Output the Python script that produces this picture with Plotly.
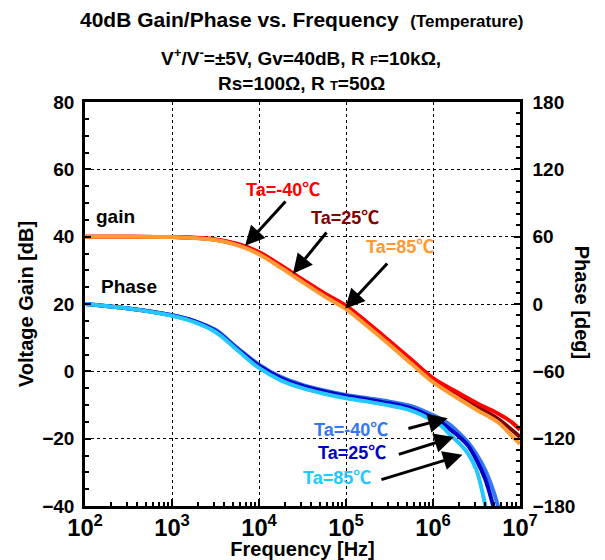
import plotly.graph_objects as go

# 40dB gain / phase vs frequency (temperature)

# log10 of frequency [Hz]
lf_gain = [2, 2.5, 3, 3.25, 3.5, 3.75, 4, 4.25, 4.5, 4.75, 5, 5.25, 5.5, 5.75, 6, 6.25, 6.5, 6.75, 6.9, 7]
gain_m40 = [40, 40, 39.9, 39.7, 39.2, 37.9, 35.4, 31.5, 27.3, 23.2, 19.5, 14.4, 9.0, 3.5, -2.0, -5.8, -9.4, -12.6, -15.0, -17.4]
gain_25 = [40, 40, 39.9, 39.7, 39.1, 37.7, 35.1, 31.2, 26.9, 22.7, 18.9, 13.8, 8.4, 2.9, -2.6, -6.6, -10.4, -14.2, -17.3, -19.5]
gain_85 = [40, 40, 39.9, 39.6, 39.0, 37.5, 34.8, 30.8, 26.5, 22.3, 18.5, 13.3, 7.9, 2.3, -3.2, -7.4, -11.4, -15.2, -19.0, -21.5]

lf_phase = [2, 2.5, 3, 3.25, 3.5, 3.75, 4, 4.25, 4.5, 4.75, 5, 5.25, 5.5, 5.75, 6, 6.1, 6.2, 6.3, 6.4, 6.5, 6.6, 6.7, 6.8]
phase_m40 = [0, -4, -10, -15, -23, -39, -54, -65, -72, -77, -81, -84, -87, -91, -99, -103, -108, -115, -123, -134, -148, -168, -195]
phase_25 = [0, -4, -10, -15, -24, -40, -55, -66, -73, -78, -82, -85, -88.5, -93, -101.5, -106, -112, -118, -126, -139, -156, -182, -210]
phase_85 = [0, -4, -10.5, -16, -25, -41, -57, -68, -75, -80, -84, -87, -90.5, -95, -104, -109, -117, -124, -133, -148, -179, -215, -250]

f_gain = [10 ** v for v in lf_gain]
f_phase = [10 ** v for v in lf_phase]

FONT = "Liberation Sans, Arial, Noto Sans CJK JP"

fig = go.Figure()

# phase (right axis)
fig.add_trace(go.Scatter(x=f_phase, y=phase_m40, yaxis="y2", mode="lines", line=dict(color="#3377F5", width=4, shape="spline")))
fig.add_trace(go.Scatter(x=f_phase, y=phase_25, yaxis="y2", mode="lines", line=dict(color="#0000C8", width=4, shape="spline")))
fig.add_trace(go.Scatter(x=f_phase, y=phase_85, yaxis="y2", mode="lines", line=dict(color="#22C8FF", width=4, shape="spline")))

# gain (left axis)
fig.add_trace(go.Scatter(x=f_gain, y=gain_25, mode="lines", line=dict(color="#800000", width=4, shape="spline")))
fig.add_trace(go.Scatter(x=f_gain, y=gain_m40, mode="lines", line=dict(color="#FF0000", width=4, shape="spline")))
fig.add_trace(go.Scatter(x=f_gain, y=gain_85, mode="lines", line=dict(color="#FF9A33", width=4, shape="spline")))

tickfont = dict(family=FONT, size=19, color="black", weight="bold")

fig.update_layout(
    width=605, height=560,
    margin=dict(l=85, r=85, t=102, b=54),
    paper_bgcolor="white", plot_bgcolor="white",
    showlegend=False,
    font=dict(family=FONT, color="black"),
    xaxis=dict(
        type="log", range=[2, 7], dtick=1, exponentformat="power", automargin=False,
        showgrid=True, gridcolor="black", griddash="dot", gridwidth=1,
        showline=True, linecolor="black", linewidth=2.5, mirror=True,
        ticks="inside", ticklen=7, tickcolor="black", tickwidth=1.5,
        minor=dict(ticks="inside", ticklen=4, dtick="D1", tickcolor="black", showgrid=False),
        tickfont=tickfont,
        title=dict(text="Frequency [Hz]", font=dict(family=FONT, size=20, weight="bold"), standoff=2),
    ),
    yaxis=dict(
        range=[-40, 80], dtick=20, zeroline=False, automargin=False,
        showgrid=True, gridcolor="black", griddash="dot", gridwidth=1,
        showline=True, linecolor="black", linewidth=2.5, mirror=True,
        ticks="inside", ticklen=6, tickcolor="black", tickwidth=1.5,
        minor=dict(ticks="inside", ticklen=4, dtick=5, tickcolor="black", showgrid=False),
        tickfont=tickfont, ticklabelstandoff=4,
        title=dict(text="Voltage Gain [dB]", font=dict(family=FONT, size=20, weight="bold"), standoff=4),
    ),
    yaxis2=dict(
        overlaying="y", side="right", range=[-180, 180], dtick=60, zeroline=False, automargin=False,
        showgrid=False, showline=True, linecolor="black", linewidth=2.5,
        ticks="inside", ticklen=6, tickcolor="black", tickwidth=1.5,
        minor=dict(ticks="inside", ticklen=4, dtick=10, tickcolor="black"),
        tickfont=tickfont, ticklabelstandoff=6,
    ),
)

# titles
fig.add_annotation(x=0.497, y=1.203, xref="paper", yref="paper", showarrow=False, yanchor="middle",
                   text="40dB Gain/Phase vs. Frequency  <span style='font-size:17px'>(Temperature)</span>",
                   font=dict(family=FONT, size=21, weight="bold"))
fig.add_annotation(x=0.497, y=1.111, xref="paper", yref="paper", showarrow=False, yanchor="middle",
                   text="V<sup>+</sup>/V<sup>-</sup>=±5V, Gv=40dB, R <span style='font-size:13px'>F</span>=10kΩ,",
                   font=dict(family=FONT, size=19, weight="bold"))
fig.add_annotation(x=0.497, y=1.047, xref="paper", yref="paper", showarrow=False, yanchor="middle",
                   text="Rs=100Ω, R <span style='font-size:13px'>T</span>=50Ω",
                   font=dict(family=FONT, size=19, weight="bold"))
fig.add_annotation(x=1.143, y=0.505, xref="paper", yref="paper", showarrow=False, textangle=90,
                   xanchor="center", yanchor="middle",
                   text="Phase [deg]", font=dict(family=FONT, size=20, weight="bold"))

# curve labels
fig.add_annotation(x=2.1, y=46, showarrow=False, xanchor="left", text="gain",
                   font=dict(family=FONT, size=19, weight="bold"))
fig.add_annotation(x=2.16, y=25.2, showarrow=False, xanchor="left", text="Phase",
                   font=dict(family=FONT, size=19, weight="bold"))

labels = [
    ("Ta=-40℃", "#FF0000", 4.28, 53.9, 3.84, 37.3, 4.32, 50.9),
    ("Ta=25℃", "#800000", 4.99, 45.5, 4.39, 29.0, 4.79, 41.7),
    ("Ta=85℃", "#FF9A33", 5.62, 36.9, 4.99, 18.6, 5.49, 32.5),
    ("Ta=-40℃", "#3377F5", 5.06, -17.4, 6.17, -13.9, 5.70, -17.1),
    ("Ta=25℃", "#0000C8", 5.07, -24.2, 6.24, -19.5, 5.59, -24.8),
    ("Ta=85℃", "#22C8FF", 4.90, -31.7, 6.34, -24.8, 5.39, -32.3),
]
for txt, col, tx, ty, hx, hy, ax, ay in labels:
    fig.add_annotation(x=tx, y=ty, text=txt, showarrow=False,
                       font=dict(family=FONT, size=18, color=col, weight="bold"))
    fig.add_annotation(x=hx, y=hy, ax=ax, ay=ay, axref="x", ayref="y", text="",
                       showarrow=True, arrowhead=2, arrowsize=1.3, arrowwidth=3, arrowcolor="black")

# no page margin, so the figure sits at the window's corner
fig.write_html("out.html", config={"displayModeBar": False},
               post_script="document.body.style.margin='0';")
